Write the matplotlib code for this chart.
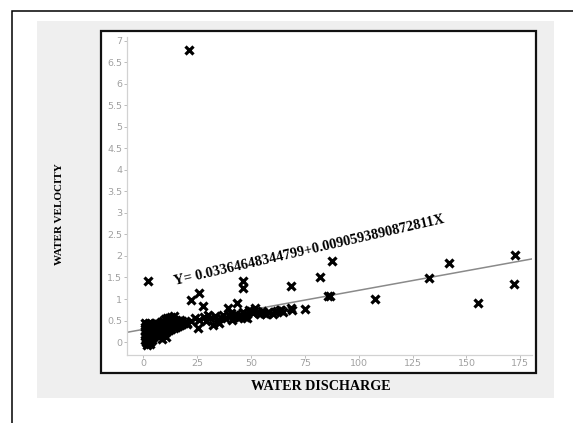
"""Water velocity vs water discharge scatter with fitted line."""
import matplotlib
matplotlib.use("Agg")
import matplotlib.pyplot as plt
from matplotlib.patches import Rectangle

W, H = 573, 423

# --- data ----------------------------------------------------------------
# dense cluster at low discharge
low_q = [0.5, 0.5, 0.5, 0.8, 1, 1, 1, 1, 1.2, 1.5, 1.5, 1.5, 1.5, 1.5,
         2, 2, 2, 2, 2, 2.5, 2.5, 2.5, 2.5, 2.5, 3, 3, 3, 3, 3,
         3.5, 3.5, 3.5, 3.5, 4, 4, 4, 4, 4.5, 4.5, 4.5, 5, 5, 5, 5.5, 5.5,
         6, 6, 6, 1.8, 2.8, 3.8, 0.7]
low_v = [0.05, 0.15, 0.25, 0.35, 0.0, 0.1, 0.2, 0.3, 0.42, -0.03, 0.08, 0.18, 0.28, 0.38,
         0.02, 0.12, 0.22, 0.32, 0.42, 0.05, 0.15, 0.25, 0.35, 0.45, 0.0, 0.1, 0.2, 0.3, 0.4,
         0.08, 0.18, 0.28, 0.38, 0.12, 0.22, 0.32, 0.42, 0.15, 0.25, 0.35, 0.2, 0.3, 0.4, 0.22, 0.32,
         0.25, 0.35, 0.45, -0.06, -0.04, 0.04, 0.44]

mid_q = [7, 7, 7, 8, 8, 8, 9, 9, 9, 10, 10, 10, 11, 11, 11, 12, 12, 12,
         13, 13, 13, 14, 14, 14, 15, 15, 16, 16, 17, 17, 18, 18, 19, 20, 8.5, 10.5]
mid_v = [0.12, 0.28, 0.42, 0.18, 0.32, 0.46, 0.2, 0.35, 0.5, 0.22, 0.38, 0.54, 0.26, 0.4, 0.55,
         0.28, 0.42, 0.57, 0.3, 0.45, 0.58, 0.32, 0.46, 0.6, 0.36, 0.52, 0.38, 0.5, 0.4, 0.52,
         0.42, 0.5, 0.45, 0.42, 0.08, 0.12]

# band between 20 and 65
band_q = [20, 22, 24, 26, 28, 29, 30, 31, 33, 34, 35, 36, 37, 38, 40, 40.5, 41, 42,
          43, 44, 45, 46, 47, 48, 49, 50, 51, 52, 53, 54, 55, 56, 57, 58, 60, 62,
          64, 65, 47, 45, 48]
band_v = [0.45, 0.5, 0.55, 0.52, 0.58, 0.5, 0.62, 0.55, 0.6, 0.5, 0.45, 0.55, 0.62, 0.55,
          0.6, 0.68, 0.52, 0.6, 0.65, 0.55, 0.62, 0.7, 0.58, 0.65, 0.75, 0.72, 0.68, 0.78,
          0.7, 0.65, 0.72, 0.68, 0.65, 0.7, 0.66, 0.72, 0.74, 0.7, 0.62, 0.58, 0.55]

# isolated points
iso_q = [21, 1.9, 21.9, 25.8, 27.5, 25.5, 32.4, 46.1, 46.3, 43.3, 39.4, 68.5, 82,
         87.4, 85.8, 86.8, 107.5, 132.7, 142, 155.5, 172.5, 172.2, 75, 68.5, 68.8,
         63.4, 61]
iso_v = [6.77, 1.42, 0.98, 1.15, 0.84, 0.32, 0.39, 1.42, 1.25, 0.91, 0.78, 1.31, 1.50,
         1.88, 1.06, 1.08, 1.01, 1.49, 1.83, 0.90, 2.02, 1.34, 0.77, 0.80, 0.75,
         0.74, 0.70]

# fitted line as drawn
fit_a, fit_b = 0.296, 0.00906
equation = "Y= 0.03364648344799+0.0090593890872811X"

xticks = [0, 25, 50, 75, 100, 125, 150, 175]
yticks = [0, 0.5, 1, 1.5, 2, 2.5, 3, 3.5, 4, 4.5, 5, 5.5, 6, 6.5, 7]
xlim = (-7.8, 180.3)
ylim = (-0.30, 7.09)


def fx(px):
    return px / W


def fy(py):
    return 1 - py / H


def box(x0, y0, x1, y1, **kw):
    return Rectangle((fx(x0), fy(y1)), fx(x1) - fx(x0), fy(y0) - fy(y1),
                     transform=fig.transFigure, **kw)


fig = plt.figure(figsize=(W / 100, H / 100), dpi=100)
fig.patch.set_facecolor("white")

# outer border (runs off the right and bottom edges), grey panel, black frame
fig.add_artist(box(12, 10.7, 620, 470, facecolor="white", edgecolor="black",
                   linewidth=1.1, zorder=-3))
fig.add_artist(box(36.7, 20.7, 554, 398, facecolor="#efefef", edgecolor="none",
                   zorder=-2))
fig.add_artist(box(101, 30.7, 535.7, 373.3, facecolor="white", edgecolor="#111111",
                   linewidth=1.6, zorder=-1))

ax = fig.add_axes([fx(126.7), fy(355), fx(531.7) - fx(126.7), fy(36.7) - fy(355)])
ax.patch.set_alpha(0)

mk = dict(linestyle="none", marker="x", color="black", markersize=5.6,
          markeredgewidth=2.3)
ax.plot(low_q, low_v, **mk)
ax.plot(mid_q, mid_v, **mk)
ax.plot(band_q, band_v, **mk)
ax.plot(iso_q, iso_v, **mk)

ax.plot(list(xlim), [fit_a + fit_b * x for x in xlim], color="#8a8a8a", linewidth=1.1,
        zorder=1)

ax.text(14.6, 1.32, equation, rotation=13, rotation_mode="anchor", ha="left",
        va="baseline", fontsize=10.4, fontweight="bold", family="Liberation Serif")

ax.set_xlim(*xlim)
ax.set_ylim(*ylim)
ax.set_xticks(xticks)
ax.set_xticklabels([str(t) for t in xticks])
ax.set_yticks(yticks)
ax.set_yticklabels([f"{t:g}" for t in yticks])
for s in ("top", "right"):
    ax.spines[s].set_visible(False)
for s in ("left", "bottom"):
    ax.spines[s].set_color("#d2d2d2")
    ax.spines[s].set_linewidth(0.9)
ax.tick_params(length=2.2, width=0.7, color="#bbbbbb", labelcolor="#a0a0a0",
               labelsize=6.8, pad=1)

fig.text(fx(60), fy(214), "WATER VELOCITY", rotation=90, ha="center", va="center",
         fontsize=8, fontweight="bold", family="Liberation Serif")
fig.text(fx(321), fy(386.3), "WATER DISCHARGE", ha="center", va="center",
         fontsize=10.2, fontweight="bold", family="Liberation Serif")

fig.savefig("out.png", dpi=100)
